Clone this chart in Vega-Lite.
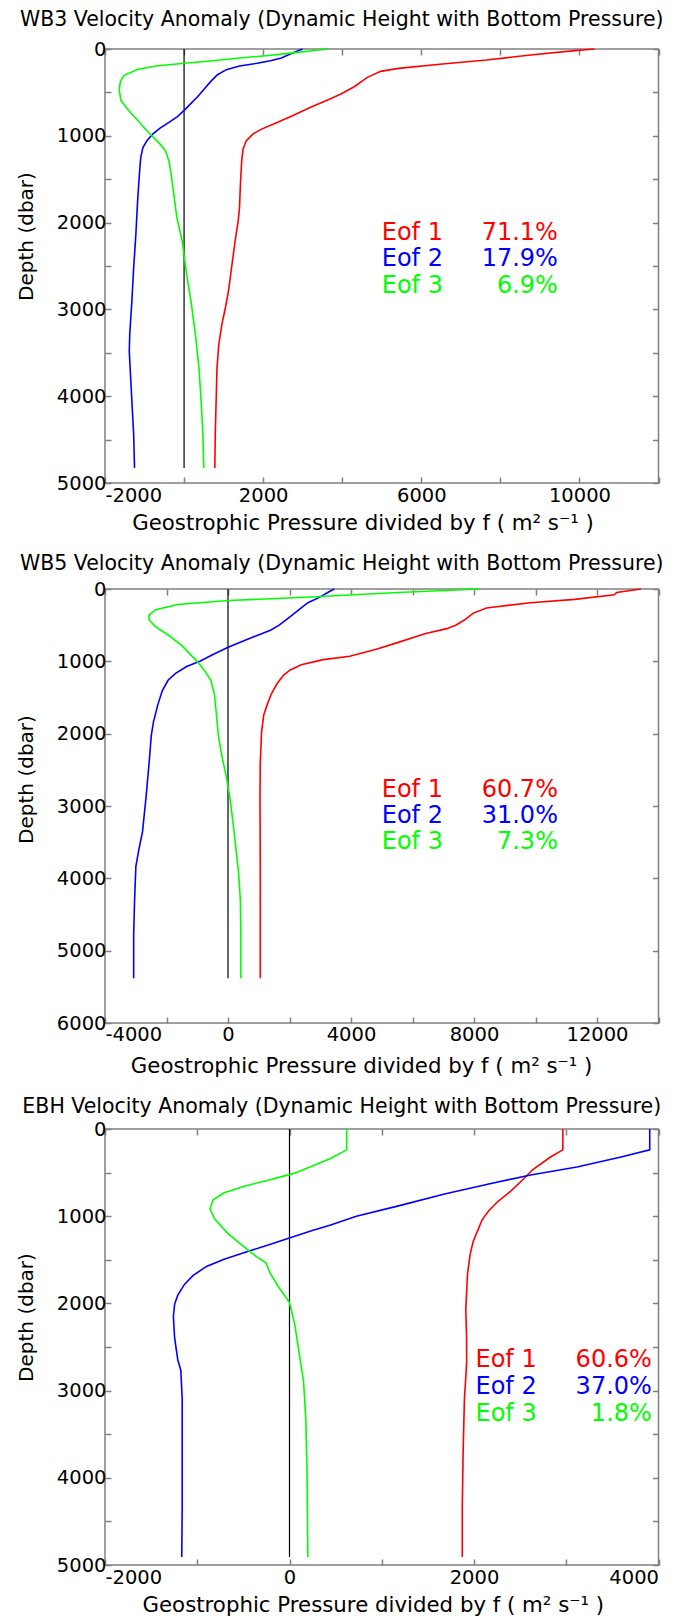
{
  "$schema": "https://vega.github.io/schema/vega-lite/v6.json",
  "background": "white",
  "padding": {"left": 15, "top": 8, "right": 0, "bottom": 0},
  "spacing": 106,
  "bounds": "flush",
  "datasets": {
    "p1": [
      {"eof": "Eof 1", "x": 10382, "depth": 0}, {"eof": "Eof 1", "x": 9880, "depth": 19}, {"eof": "Eof 1", "x": 8765, "depth": 69}, {"eof": "Eof 1", "x": 7649, "depth": 127}, {"eof": "Eof 1", "x": 6534, "depth": 173}, {"eof": "Eof 1", "x": 5418, "depth": 223}, {"eof": "Eof 1", "x": 4972, "depth": 258}, {"eof": "Eof 1", "x": 4637, "depth": 327}, {"eof": "Eof 1", "x": 4303, "depth": 435}, {"eof": "Eof 1", "x": 3968, "depth": 519}, {"eof": "Eof 1", "x": 3689, "depth": 577}, {"eof": "Eof 1", "x": 3187, "depth": 673}, {"eof": "Eof 1", "x": 2741, "depth": 769}, {"eof": "Eof 1", "x": 2295, "depth": 858}, {"eof": "Eof 1", "x": 1960, "depth": 923}, {"eof": "Eof 1", "x": 1737, "depth": 981}, {"eof": "Eof 1", "x": 1570, "depth": 1058}, {"eof": "Eof 1", "x": 1492, "depth": 1154}, {"eof": "Eof 1", "x": 1458, "depth": 1288}, {"eof": "Eof 1", "x": 1425, "depth": 1558}, {"eof": "Eof 1", "x": 1402, "depth": 1827}, {"eof": "Eof 1", "x": 1369, "depth": 1981}, {"eof": "Eof 1", "x": 1291, "depth": 2212}, {"eof": "Eof 1", "x": 1202, "depth": 2519}, {"eof": "Eof 1", "x": 1123, "depth": 2788}, {"eof": "Eof 1", "x": 1045, "depth": 2981}, {"eof": "Eof 1", "x": 956, "depth": 3173}, {"eof": "Eof 1", "x": 878, "depth": 3404}, {"eof": "Eof 1", "x": 833, "depth": 3673}, {"eof": "Eof 1", "x": 811, "depth": 4058}, {"eof": "Eof 1", "x": 789, "depth": 4442}, {"eof": "Eof 1", "x": 778, "depth": 4827},
      {"eof": "Eof 2", "x": 2997, "depth": 0}, {"eof": "Eof 2", "x": 2852, "depth": 27}, {"eof": "Eof 2", "x": 2685, "depth": 58}, {"eof": "Eof 2", "x": 2462, "depth": 104}, {"eof": "Eof 2", "x": 2183, "depth": 135}, {"eof": "Eof 2", "x": 1848, "depth": 165}, {"eof": "Eof 2", "x": 1402, "depth": 196}, {"eof": "Eof 2", "x": 1068, "depth": 238}, {"eof": "Eof 2", "x": 845, "depth": 296}, {"eof": "Eof 2", "x": 677, "depth": 373}, {"eof": "Eof 2", "x": 510, "depth": 462}, {"eof": "Eof 2", "x": 343, "depth": 550}, {"eof": "Eof 2", "x": 175, "depth": 627}, {"eof": "Eof 2", "x": 8, "depth": 704}, {"eof": "Eof 2", "x": -159, "depth": 777}, {"eof": "Eof 2", "x": -383, "depth": 846}, {"eof": "Eof 2", "x": -606, "depth": 912}, {"eof": "Eof 2", "x": -795, "depth": 981}, {"eof": "Eof 2", "x": -940, "depth": 1058}, {"eof": "Eof 2", "x": -1041, "depth": 1135}, {"eof": "Eof 2", "x": -1096, "depth": 1250}, {"eof": "Eof 2", "x": -1130, "depth": 1442}, {"eof": "Eof 2", "x": -1175, "depth": 1750}, {"eof": "Eof 2", "x": -1219, "depth": 2135}, {"eof": "Eof 2", "x": -1275, "depth": 2519}, {"eof": "Eof 2", "x": -1320, "depth": 2904}, {"eof": "Eof 2", "x": -1375, "depth": 3288}, {"eof": "Eof 2", "x": -1386, "depth": 3481}, {"eof": "Eof 2", "x": -1364, "depth": 3673}, {"eof": "Eof 2", "x": -1320, "depth": 4058}, {"eof": "Eof 2", "x": -1275, "depth": 4442}, {"eof": "Eof 2", "x": -1253, "depth": 4827},
      {"eof": "Eof 3", "x": 3633, "depth": 0}, {"eof": "Eof 3", "x": 3187, "depth": 23}, {"eof": "Eof 3", "x": 2629, "depth": 50}, {"eof": "Eof 3", "x": 2072, "depth": 77}, {"eof": "Eof 3", "x": 1402, "depth": 104}, {"eof": "Eof 3", "x": 733, "depth": 135}, {"eof": "Eof 3", "x": 8, "depth": 165}, {"eof": "Eof 3", "x": -717, "depth": 196}, {"eof": "Eof 3", "x": -1178, "depth": 237}, {"eof": "Eof 3", "x": -1516, "depth": 303}, {"eof": "Eof 3", "x": -1610, "depth": 372}, {"eof": "Eof 3", "x": -1640, "depth": 470}, {"eof": "Eof 3", "x": -1600, "depth": 590}, {"eof": "Eof 3", "x": -1420, "depth": 700}, {"eof": "Eof 3", "x": -1163, "depth": 827}, {"eof": "Eof 3", "x": -940, "depth": 942}, {"eof": "Eof 3", "x": -773, "depth": 1019}, {"eof": "Eof 3", "x": -606, "depth": 1096}, {"eof": "Eof 3", "x": -472, "depth": 1173}, {"eof": "Eof 3", "x": -383, "depth": 1288}, {"eof": "Eof 3", "x": -327, "depth": 1442}, {"eof": "Eof 3", "x": -271, "depth": 1635}, {"eof": "Eof 3", "x": -182, "depth": 1942}, {"eof": "Eof 3", "x": -48, "depth": 2212}, {"eof": "Eof 3", "x": 64, "depth": 2596}, {"eof": "Eof 3", "x": 175, "depth": 2904}, {"eof": "Eof 3", "x": 287, "depth": 3288}, {"eof": "Eof 3", "x": 376, "depth": 3673}, {"eof": "Eof 3", "x": 432, "depth": 4058}, {"eof": "Eof 3", "x": 476, "depth": 4442}, {"eof": "Eof 3", "x": 500, "depth": 4827}
    ],
    "p2": [
      {"eof": "Eof 1", "x": 13427, "depth": 0}, {"eof": "Eof 1", "x": 12638, "depth": 48}, {"eof": "Eof 1", "x": 12566, "depth": 81}, {"eof": "Eof 1", "x": 11275, "depth": 143}, {"eof": "Eof 1", "x": 9841, "depth": 190}, {"eof": "Eof 1", "x": 8407, "depth": 262}, {"eof": "Eof 1", "x": 7976, "depth": 333}, {"eof": "Eof 1", "x": 7690, "depth": 429}, {"eof": "Eof 1", "x": 7403, "depth": 500}, {"eof": "Eof 1", "x": 7116, "depth": 548}, {"eof": "Eof 1", "x": 6399, "depth": 619}, {"eof": "Eof 1", "x": 5538, "depth": 738}, {"eof": "Eof 1", "x": 4821, "depth": 833}, {"eof": "Eof 1", "x": 3960, "depth": 929}, {"eof": "Eof 1", "x": 3100, "depth": 976}, {"eof": "Eof 1", "x": 2383, "depth": 1048}, {"eof": "Eof 1", "x": 2024, "depth": 1119}, {"eof": "Eof 1", "x": 1809, "depth": 1190}, {"eof": "Eof 1", "x": 1594, "depth": 1310}, {"eof": "Eof 1", "x": 1407, "depth": 1452}, {"eof": "Eof 1", "x": 1278, "depth": 1595}, {"eof": "Eof 1", "x": 1164, "depth": 1738}, {"eof": "Eof 1", "x": 1092, "depth": 1976}, {"eof": "Eof 1", "x": 1049, "depth": 2405}, {"eof": "Eof 1", "x": 1040, "depth": 2881}, {"eof": "Eof 1", "x": 1045, "depth": 3357}, {"eof": "Eof 1", "x": 1050, "depth": 3833}, {"eof": "Eof 1", "x": 1050, "depth": 4310}, {"eof": "Eof 1", "x": 1050, "depth": 4786}, {"eof": "Eof 1", "x": 1050, "depth": 5381},
      {"eof": "Eof 2", "x": 3458, "depth": 0}, {"eof": "Eof 2", "x": 3243, "depth": 48}, {"eof": "Eof 2", "x": 2956, "depth": 119}, {"eof": "Eof 2", "x": 2598, "depth": 190}, {"eof": "Eof 2", "x": 2311, "depth": 286}, {"eof": "Eof 2", "x": 1952, "depth": 405}, {"eof": "Eof 2", "x": 1666, "depth": 500}, {"eof": "Eof 2", "x": 1379, "depth": 571}, {"eof": "Eof 2", "x": 948, "depth": 643}, {"eof": "Eof 2", "x": 518, "depth": 714}, {"eof": "Eof 2", "x": -13, "depth": 810}, {"eof": "Eof 2", "x": -486, "depth": 905}, {"eof": "Eof 2", "x": -916, "depth": 1000}, {"eof": "Eof 2", "x": -1346, "depth": 1071}, {"eof": "Eof 2", "x": -1705, "depth": 1167}, {"eof": "Eof 2", "x": -1949, "depth": 1262}, {"eof": "Eof 2", "x": -2135, "depth": 1405}, {"eof": "Eof 2", "x": -2279, "depth": 1595}, {"eof": "Eof 2", "x": -2422, "depth": 1833}, {"eof": "Eof 2", "x": -2494, "depth": 2024}, {"eof": "Eof 2", "x": -2566, "depth": 2405}, {"eof": "Eof 2", "x": -2666, "depth": 2881}, {"eof": "Eof 2", "x": -2781, "depth": 3357}, {"eof": "Eof 2", "x": -2896, "depth": 3595}, {"eof": "Eof 2", "x": -2996, "depth": 3833}, {"eof": "Eof 2", "x": -3039, "depth": 4310}, {"eof": "Eof 2", "x": -3068, "depth": 4786}, {"eof": "Eof 2", "x": -3068, "depth": 5381},
      {"eof": "Eof 3", "x": 8192, "depth": 0}, {"eof": "Eof 3", "x": 5538, "depth": 48}, {"eof": "Eof 3", "x": 2670, "depth": 110}, {"eof": "Eof 3", "x": 16, "depth": 160}, {"eof": "Eof 3", "x": -1633, "depth": 214}, {"eof": "Eof 3", "x": -2350, "depth": 286}, {"eof": "Eof 3", "x": -2566, "depth": 357}, {"eof": "Eof 3", "x": -2566, "depth": 429}, {"eof": "Eof 3", "x": -2350, "depth": 524}, {"eof": "Eof 3", "x": -1920, "depth": 643}, {"eof": "Eof 3", "x": -1490, "depth": 786}, {"eof": "Eof 3", "x": -1060, "depth": 976}, {"eof": "Eof 3", "x": -773, "depth": 1119}, {"eof": "Eof 3", "x": -558, "depth": 1262}, {"eof": "Eof 3", "x": -443, "depth": 1452}, {"eof": "Eof 3", "x": -386, "depth": 1690}, {"eof": "Eof 3", "x": -314, "depth": 2024}, {"eof": "Eof 3", "x": -199, "depth": 2310}, {"eof": "Eof 3", "x": -56, "depth": 2595}, {"eof": "Eof 3", "x": 59, "depth": 2881}, {"eof": "Eof 3", "x": 159, "depth": 3214}, {"eof": "Eof 3", "x": 260, "depth": 3595}, {"eof": "Eof 3", "x": 346, "depth": 3929}, {"eof": "Eof 3", "x": 403, "depth": 4310}, {"eof": "Eof 3", "x": 418, "depth": 4786}, {"eof": "Eof 3", "x": 418, "depth": 5381}
    ],
    "p3": [
      {"eof": "Eof 1", "x": 2963, "depth": 0}, {"eof": "Eof 1", "x": 2963, "depth": 239}, {"eof": "Eof 1", "x": 2829, "depth": 321}, {"eof": "Eof 1", "x": 2638, "depth": 465}, {"eof": "Eof 1", "x": 2542, "depth": 568}, {"eof": "Eof 1", "x": 2399, "depth": 712}, {"eof": "Eof 1", "x": 2255, "depth": 835}, {"eof": "Eof 1", "x": 2160, "depth": 938}, {"eof": "Eof 1", "x": 2088, "depth": 1041}, {"eof": "Eof 1", "x": 2040, "depth": 1165}, {"eof": "Eof 1", "x": 1992, "depth": 1288}, {"eof": "Eof 1", "x": 1959, "depth": 1432}, {"eof": "Eof 1", "x": 1930, "depth": 1658}, {"eof": "Eof 1", "x": 1911, "depth": 2070}, {"eof": "Eof 1", "x": 1920, "depth": 2399}, {"eof": "Eof 1", "x": 1920, "depth": 2687}, {"eof": "Eof 1", "x": 1896, "depth": 3099}, {"eof": "Eof 1", "x": 1882, "depth": 3716}, {"eof": "Eof 1", "x": 1873, "depth": 4333}, {"eof": "Eof 1", "x": 1873, "depth": 4909},
      {"eof": "Eof 2", "x": 3905, "depth": 0}, {"eof": "Eof 2", "x": 3905, "depth": 239}, {"eof": "Eof 2", "x": 3594, "depth": 321}, {"eof": "Eof 2", "x": 3116, "depth": 436}, {"eof": "Eof 2", "x": 2614, "depth": 527}, {"eof": "Eof 2", "x": 2160, "depth": 630}, {"eof": "Eof 2", "x": 1681, "depth": 745}, {"eof": "Eof 2", "x": 1203, "depth": 876}, {"eof": "Eof 2", "x": 725, "depth": 1000}, {"eof": "Eof 2", "x": 438, "depth": 1103}, {"eof": "Eof 2", "x": 247, "depth": 1165}, {"eof": "Eof 2", "x": 8, "depth": 1247}, {"eof": "Eof 2", "x": -231, "depth": 1329}, {"eof": "Eof 2", "x": -470, "depth": 1411}, {"eof": "Eof 2", "x": -709, "depth": 1494}, {"eof": "Eof 2", "x": -900, "depth": 1576}, {"eof": "Eof 2", "x": -1044, "depth": 1679}, {"eof": "Eof 2", "x": -1139, "depth": 1782}, {"eof": "Eof 2", "x": -1211, "depth": 1905}, {"eof": "Eof 2", "x": -1245, "depth": 2008}, {"eof": "Eof 2", "x": -1259, "depth": 2152}, {"eof": "Eof 2", "x": -1245, "depth": 2399}, {"eof": "Eof 2", "x": -1211, "depth": 2646}, {"eof": "Eof 2", "x": -1178, "depth": 2769}, {"eof": "Eof 2", "x": -1163, "depth": 3099}, {"eof": "Eof 2", "x": -1163, "depth": 3716}, {"eof": "Eof 2", "x": -1163, "depth": 4333}, {"eof": "Eof 2", "x": -1168, "depth": 4909},
      {"eof": "Eof 3", "x": 620, "depth": 0}, {"eof": "Eof 3", "x": 620, "depth": 239}, {"eof": "Eof 3", "x": 438, "depth": 342}, {"eof": "Eof 3", "x": 247, "depth": 424}, {"eof": "Eof 3", "x": 56, "depth": 506}, {"eof": "Eof 3", "x": -231, "depth": 588}, {"eof": "Eof 3", "x": -470, "depth": 650}, {"eof": "Eof 3", "x": -709, "depth": 732}, {"eof": "Eof 3", "x": -829, "depth": 815}, {"eof": "Eof 3", "x": -862, "depth": 918}, {"eof": "Eof 3", "x": -805, "depth": 1041}, {"eof": "Eof 3", "x": -661, "depth": 1206}, {"eof": "Eof 3", "x": -518, "depth": 1329}, {"eof": "Eof 3", "x": -374, "depth": 1453}, {"eof": "Eof 3", "x": -255, "depth": 1535}, {"eof": "Eof 3", "x": -207, "depth": 1658}, {"eof": "Eof 3", "x": -111, "depth": 1823}, {"eof": "Eof 3", "x": -1, "depth": 1988}, {"eof": "Eof 3", "x": 56, "depth": 2234}, {"eof": "Eof 3", "x": 104, "depth": 2564}, {"eof": "Eof 3", "x": 152, "depth": 2893}, {"eof": "Eof 3", "x": 176, "depth": 3304}, {"eof": "Eof 3", "x": 190, "depth": 3922}, {"eof": "Eof 3", "x": 199, "depth": 4909}
    ],
    "z1": [{"x": 0, "depth": 0}, {"x": 0, "depth": 4827}],
    "z2": [{"x": 0, "depth": 0}, {"x": 0, "depth": 5381}],
    "z3": [{"x": 0, "depth": 0}, {"x": 0, "depth": 4909}],
    "a1": [
      {"eof": "Eof 1", "label": "Eof 1", "pct": "71.1%", "x": 5000, "xr": 9456, "depth": 2115},
      {"eof": "Eof 2", "label": "Eof 2", "pct": "17.9%", "x": 5000, "xr": 9456, "depth": 2423},
      {"eof": "Eof 3", "label": "Eof 3", "pct": "6.9%", "x": 5000, "xr": 9456, "depth": 2731}
    ],
    "a2": [
      {"eof": "Eof 1", "label": "Eof 1", "pct": "60.7%", "x": 5000, "xr": 10730, "depth": 2776},
      {"eof": "Eof 2", "label": "Eof 2", "pct": "31.0%", "x": 5000, "xr": 10730, "depth": 3143},
      {"eof": "Eof 3", "label": "Eof 3", "pct": "7.3%", "x": 5000, "xr": 10730, "depth": 3500}
    ],
    "a3": [
      {"eof": "Eof 1", "label": "Eof 1", "pct": "60.6%", "x": 2016, "xr": 3928, "depth": 2646},
      {"eof": "Eof 2", "label": "Eof 2", "pct": "37.0%", "x": 2016, "xr": 3928, "depth": 2955},
      {"eof": "Eof 3", "label": "Eof 3", "pct": "1.8%", "x": 2016, "xr": 3928, "depth": 3263}
    ]
  },
  "vconcat": [
    {
      "width": 553.5, "height": 434,
      "title": {"text": "WB3 Velocity Anomaly (Dynamic Height with Bottom Pressure)", "dx": -40, "offset": 9},
      "layer": [
        {
          "data": {"name": "z1"},
          "mark": {"type": "line", "color": "black", "strokeWidth": 1.2},
          "encoding": {
            "x": {"field": "x", "type": "quantitative", "scale": {"domain": [-2000, 12000], "nice": false, "zero": false}, "axis": {"orient": "top", "values": [-2000, 0, 2000, 4000, 6000, 8000, 10000, 12000], "labels": false, "title": null}},
            "y": {"field": "depth", "type": "quantitative", "scale": {"domain": [0, 5000], "reverse": true, "nice": false, "zero": false}, "axis": {"orient": "right", "values": [0, 500, 1000, 1500, 2000, 2500, 3000, 3500, 4000, 4500, 5000], "labels": false, "title": null}},
            "order": {"field": "depth", "type": "quantitative"}
          }
        },
        {
          "data": {"name": "p1"},
          "mark": {"type": "line", "strokeWidth": 1.6},
          "encoding": {
            "x": {"field": "x", "type": "quantitative", "scale": {"domain": [-2000, 12000], "nice": false, "zero": false}, "axis": {"orient": "bottom", "values": [-2000, 0, 2000, 4000, 6000, 8000, 10000, 12000], "labelExpr": "(datum.value + 2000) % 4000 == 0 ? '' + datum.value : ''", "labelPadding": 9, "title": "Geostrophic Pressure divided by f ( m² s⁻¹ )", "titleAlign": "left", "titleX": 26.7, "titleY": 46, "titleBaseline": "alphabetic"}},
            "y": {"field": "depth", "type": "quantitative", "scale": {"domain": [0, 5000], "reverse": true, "nice": false, "zero": false}, "axis": {"orient": "left", "values": [0, 500, 1000, 1500, 2000, 2500, 3000, 3500, 4000, 4500, 5000], "labelExpr": "datum.value % 1000 == 0 ? '' + datum.value : ''", "title": "Depth (dbar)", "titleX": -79, "titleY": 187, "titleBaseline": "middle"}},
            "color": {"field": "eof", "type": "nominal", "scale": {"domain": ["Eof 1", "Eof 2", "Eof 3"], "range": ["#ff0000", "#0000ff", "#00ff00"]}, "legend": null},
            "order": {"field": "depth", "type": "quantitative"}
          }
        },
        {
          "data": {"name": "a1"},
          "mark": {"type": "text", "align": "left", "baseline": "middle", "fontSize": 24},
          "encoding": {
            "x": {"field": "x", "type": "quantitative", "axis": null},
            "y": {"field": "depth", "type": "quantitative", "axis": null},
            "text": {"field": "label"},
            "color": {"field": "eof", "type": "nominal", "legend": null}
          }
        },
        {
          "data": {"name": "a1"},
          "mark": {"type": "text", "align": "right", "baseline": "middle", "fontSize": 24},
          "encoding": {
            "x": {"field": "xr", "type": "quantitative", "axis": null},
            "y": {"field": "depth", "type": "quantitative", "axis": null},
            "text": {"field": "pct"},
            "color": {"field": "eof", "type": "nominal", "legend": null}
          }
        }
      ],
      "resolve": {"axis": {"x": "independent", "y": "independent"}}
    },
    {
      "width": 553.5, "height": 434,
      "title": {"text": "WB5 Velocity Anomaly (Dynamic Height with Bottom Pressure)", "dx": -40, "offset": 5},
      "layer": [
        {
          "data": {"name": "z2"},
          "mark": {"type": "line", "color": "black", "strokeWidth": 1.2},
          "encoding": {
            "x": {"field": "x", "type": "quantitative", "scale": {"domain": [-4000, 14000], "nice": false, "zero": false}, "axis": {"orient": "top", "values": [-4000, -2000, 0, 2000, 4000, 6000, 8000, 10000, 12000, 14000], "labels": false, "title": null}},
            "y": {"field": "depth", "type": "quantitative", "scale": {"domain": [0, 6000], "reverse": true, "nice": false, "zero": false}, "axis": {"orient": "right", "values": [0, 1000, 2000, 3000, 4000, 5000, 6000], "labels": false, "title": null}},
            "order": {"field": "depth", "type": "quantitative"}
          }
        },
        {
          "data": {"name": "p2"},
          "mark": {"type": "line", "strokeWidth": 1.6},
          "encoding": {
            "x": {"field": "x", "type": "quantitative", "scale": {"domain": [-4000, 14000], "nice": false, "zero": false}, "axis": {"orient": "bottom", "values": [-4000, -2000, 0, 2000, 4000, 6000, 8000, 10000, 12000, 14000], "labelExpr": "datum.value % 4000 == 0 && datum.value < 14000 ? '' + datum.value : ''", "labelPadding": 8, "title": "Geostrophic Pressure divided by f ( m² s⁻¹ )", "titleAlign": "left", "titleX": 25.3, "titleY": 49, "titleBaseline": "alphabetic"}},
            "y": {"field": "depth", "type": "quantitative", "scale": {"domain": [0, 6000], "reverse": true, "nice": false, "zero": false}, "axis": {"orient": "left", "values": [0, 1000, 2000, 3000, 4000, 5000, 6000], "labelExpr": "'' + datum.value", "title": "Depth (dbar)", "titleX": -79, "titleY": 190, "titleBaseline": "middle"}},
            "color": {"field": "eof", "type": "nominal", "scale": {"domain": ["Eof 1", "Eof 2", "Eof 3"], "range": ["#ff0000", "#0000ff", "#00ff00"]}, "legend": null},
            "order": {"field": "depth", "type": "quantitative"}
          }
        },
        {
          "data": {"name": "a2"},
          "mark": {"type": "text", "align": "left", "baseline": "middle", "fontSize": 24},
          "encoding": {
            "x": {"field": "x", "type": "quantitative", "axis": null},
            "y": {"field": "depth", "type": "quantitative", "axis": null},
            "text": {"field": "label"},
            "color": {"field": "eof", "type": "nominal", "legend": null}
          }
        },
        {
          "data": {"name": "a2"},
          "mark": {"type": "text", "align": "right", "baseline": "middle", "fontSize": 24},
          "encoding": {
            "x": {"field": "xr", "type": "quantitative", "axis": null},
            "y": {"field": "depth", "type": "quantitative", "axis": null},
            "text": {"field": "pct"},
            "color": {"field": "eof", "type": "nominal", "legend": null}
          }
        }
      ],
      "resolve": {"axis": {"x": "independent", "y": "independent"}}
    },
    {
      "width": 553.5, "height": 436,
      "title": {"text": "EBH Velocity Anomaly (Dynamic Height with Bottom Pressure)", "dx": -40, "offset": 2},
      "layer": [
        {
          "data": {"name": "z3"},
          "mark": {"type": "line", "color": "black", "strokeWidth": 1.2},
          "encoding": {
            "x": {"field": "x", "type": "quantitative", "scale": {"domain": [-2000, 4000], "nice": false, "zero": false}, "axis": {"orient": "top", "values": [-2000, -1000, 0, 1000, 2000, 3000, 4000], "labels": false, "title": null}},
            "y": {"field": "depth", "type": "quantitative", "scale": {"domain": [0, 5000], "reverse": true, "nice": false, "zero": false}, "axis": {"orient": "right", "values": [0, 500, 1000, 1500, 2000, 2500, 3000, 3500, 4000, 4500, 5000], "labels": false, "title": null}},
            "order": {"field": "depth", "type": "quantitative"}
          }
        },
        {
          "data": {"name": "p3"},
          "mark": {"type": "line", "strokeWidth": 1.6},
          "encoding": {
            "x": {"field": "x", "type": "quantitative", "scale": {"domain": [-2000, 4000], "nice": false, "zero": false}, "axis": {"orient": "bottom", "values": [-2000, -1000, 0, 1000, 2000, 3000, 4000], "labelExpr": "datum.value % 2000 == 0 ? '' + datum.value : ''", "labelPadding": 9, "title": "Geostrophic Pressure divided by f ( m² s⁻¹ )", "titleAlign": "left", "titleX": 37, "titleY": 46, "titleBaseline": "alphabetic"}},
            "y": {"field": "depth", "type": "quantitative", "scale": {"domain": [0, 5000], "reverse": true, "nice": false, "zero": false}, "axis": {"orient": "left", "values": [0, 500, 1000, 1500, 2000, 2500, 3000, 3500, 4000, 4500, 5000], "labelExpr": "datum.value % 1000 == 0 ? '' + datum.value : ''", "title": "Depth (dbar)", "titleX": -79, "titleY": 188, "titleBaseline": "middle"}},
            "color": {"field": "eof", "type": "nominal", "scale": {"domain": ["Eof 1", "Eof 2", "Eof 3"], "range": ["#ff0000", "#0000ff", "#00ff00"]}, "legend": null},
            "order": {"field": "depth", "type": "quantitative"}
          }
        },
        {
          "data": {"name": "a3"},
          "mark": {"type": "text", "align": "left", "baseline": "middle", "fontSize": 24},
          "encoding": {
            "x": {"field": "x", "type": "quantitative", "axis": null},
            "y": {"field": "depth", "type": "quantitative", "axis": null},
            "text": {"field": "label"},
            "color": {"field": "eof", "type": "nominal", "legend": null}
          }
        },
        {
          "data": {"name": "a3"},
          "mark": {"type": "text", "align": "right", "baseline": "middle", "fontSize": 24},
          "encoding": {
            "x": {"field": "xr", "type": "quantitative", "axis": null},
            "y": {"field": "depth", "type": "quantitative", "axis": null},
            "text": {"field": "pct"},
            "color": {"field": "eof", "type": "nominal", "legend": null}
          }
        }
      ],
      "resolve": {"axis": {"x": "independent", "y": "independent"}}
    }
  ],
  "config": {
    "font": "DejaVu Sans",
    "view": {"stroke": "#808080", "strokeWidth": 1.5},
    "axis": {"domain": false, "grid": false, "tickSize": -6, "tickColor": "#808080", "tickWidth": 1.5, "labelFont": "DejaVu Sans", "labelFontSize": 19.5, "labelColor": "black", "labelPadding": 5, "labelOverlap": false, "labelBound": false, "titleFont": "DejaVu Sans", "titleFontSize": 20, "titleFontWeight": "normal", "titleColor": "black"},
    "axisX": {"labelDx": 5, "titleFontSize": 21.3},
    "title": {"font": "DejaVu Sans", "fontSize": 20.5, "fontWeight": "normal", "color": "black", "anchor": "middle", "frame": "group"},
    "text": {"font": "DejaVu Sans", "fontSize": 24}
  }
}
